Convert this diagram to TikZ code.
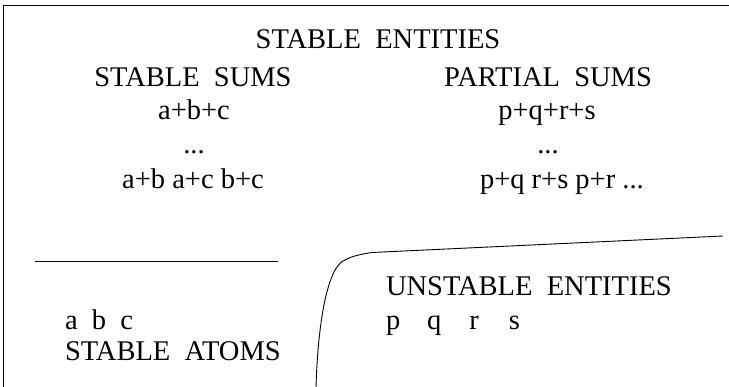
\documentclass[tikz,border=0pt]{standalone}
\usepackage{fontspec}
\setmainfont{Liberation Serif}
\begin{document}
\begin{tikzpicture}[x=1pt,y=-1pt,
  lbl/.style={inner sep=0pt,outer sep=0pt,font=\fontsize{28.5}{34}\selectfont},
  ln/.style={line width=0.9pt,black}]
\useasboundingbox (0,0) rectangle (729,387);
% frame
\draw[ln] (3,387) -- (3,5) -- (729,5);
% left separator
\draw[ln] (35,261) -- (278,261);
% curved boundary
\draw[ln] (316,387) .. controls (318,320) and (328,266) .. (345,260)
  .. controls (352,256) and (362,254) .. (372,252.5) -- (723,236);
% texts
\node[lbl,anchor=base] (se) at (378,49) {STABLE\ \ ENTITIES};
\node[lbl,anchor=base] (ss) at (193,87) {STABLE\ \ SUMS};
\node[lbl,anchor=base] (s3) at (194,120) {a+b+c};
\node[lbl,anchor=base] (sd) at (194,154) {...};
\node[lbl,anchor=base] (s2) at (193,189) {a+b a+c b+c};
\node[lbl,anchor=base] (ps) at (548,87) {PARTIAL\ \ SUMS};
\node[lbl,anchor=base] (p4) at (547,120) {p+q+r+s};
\node[lbl,anchor=base] (pd) at (548,154) {...};
\node[lbl,anchor=base west] (p2) at (480,189) {p+q r+s p+r ...};
\node[lbl,anchor=base west] (ue) at (386,296) {UNSTABLE\ \ ENTITIES};
\node[lbl,anchor=base west] (pq) at (386,330) {p\hspace{27pt}q\hspace{28pt}r\hspace{30pt}s};
\node[lbl,anchor=base west] (ab) at (65,330) {a\ \ b\ \ c};
\node[lbl,anchor=base west] (sa) at (65,361) {STABLE\ \ ATOMS};
\end{tikzpicture}
\end{document}
